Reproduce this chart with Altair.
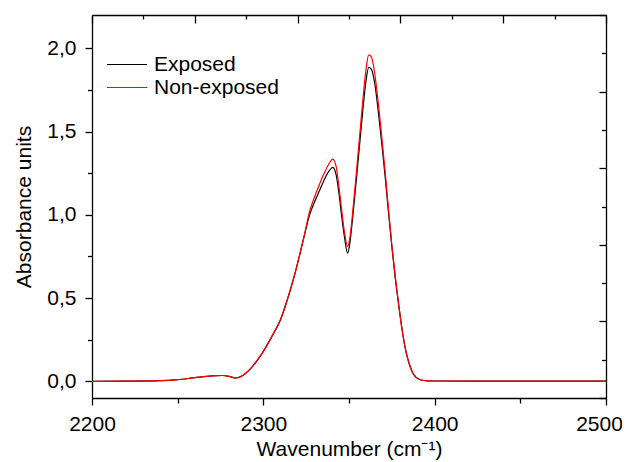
import altair as alt
import pandas as pd

# Wavenumber grid (cm-1)
wavenumber = [2200, 2220, 2240, 2250, 2260, 2270, 2276, 2280, 2284, 2288,
              2292, 2296, 2300, 2305, 2310, 2314, 2318, 2321, 2324, 2327,
              2330, 2333, 2336, 2338.5, 2340.5, 2342.5, 2344, 2345.5, 2347.3, 2349.2,
              2350.5, 2352, 2354, 2356, 2358, 2360, 2361.5, 2363, 2365, 2367,
              2369, 2371, 2373, 2375, 2377, 2379, 2381, 2383, 2385, 2387,
              2389, 2392, 2396, 2400, 2450, 2500]

non_exposed = [0, 0.001, 0.004, 0.01, 0.022, 0.033, 0.035, 0.03, 0.02, 0.035,
               0.07, 0.12, 0.18, 0.27, 0.37, 0.49, 0.63, 0.75, 0.88, 1.02,
               1.11, 1.19, 1.26, 1.31, 1.335, 1.29, 1.18, 1.05, 0.90, 0.81,
               0.86, 1.00, 1.22, 1.45, 1.68, 1.88, 1.96, 1.95, 1.85, 1.68,
               1.48, 1.27, 1.04, 0.82, 0.63, 0.46, 0.31, 0.19, 0.11, 0.055,
               0.025, 0.008, 0.003, 0.002, 0.001, 0.001]

exposed = [0, 0.001, 0.004, 0.01, 0.022, 0.033, 0.035, 0.03, 0.02, 0.035,
           0.07, 0.12, 0.18, 0.27, 0.37, 0.49, 0.63, 0.75, 0.88, 1.00,
           1.08, 1.15, 1.22, 1.265, 1.285, 1.24, 1.14, 1.01, 0.87, 0.77,
           0.83, 0.97, 1.18, 1.40, 1.62, 1.81, 1.885, 1.875, 1.79, 1.63,
           1.44, 1.24, 1.02, 0.81, 0.62, 0.46, 0.31, 0.19, 0.11, 0.055,
           0.025, 0.008, 0.003, 0.002, 0.001, 0.001]

series_names = ["Exposed", "Non-exposed"]
series_colors = ["#000000", "#ff0000"]

x_major_minor = [2200, 2250, 2300, 2350, 2400, 2450, 2500]
y_major_minor = [0, 0.25, 0.5, 0.75, 1.0, 1.25, 1.5, 1.75, 2.0]
top_ticks = [2200, 2230, 2260, 2290, 2320, 2350, 2380, 2410, 2440, 2470, 2500]
right_ticks = [-0.1, 0.13, 0.36, 0.59, 0.82, 1.05, 1.28, 1.51, 1.74, 1.97, 2.2]

rows = []
for w, a in zip(wavenumber, exposed):
    rows.append({"wn": w, "A": a, "series": series_names[0]})
for w, a in zip(wavenumber, non_exposed):
    rows.append({"wn": w, "A": a, "series": series_names[1]})
df = pd.DataFrame(rows)

FONT = "Liberation Sans"
FS = 21
xscale = alt.Scale(domain=[2200, 2500], nice=False, zero=False)
yscale = alt.Scale(domain=[-0.1, 2.2], nice=False, zero=False)

main = alt.Chart(df).mark_line(strokeWidth=1.2, interpolate="monotone").encode(
    x=alt.X("wn:Q", scale=xscale, title="Wavenumber (cm\u207B\u00B9)",
            axis=alt.Axis(values=x_major_minor, grid=False, format="d", labelFlush=False,
                          labelExpr="datum.value % 100 === 0 ? datum.label : ''",
                          labelOffset=alt.ExprRef(expr="datum.value === 2500 ? -7 : 0"),
                          tickSize=alt.ExprRef(expr="datum.value % 100 === 0 ? 7 : 5"),
                          labelPadding=8, titlePadding=4)),
    y=alt.Y("A:Q", scale=yscale, title="Absorbance units",
            axis=alt.Axis(values=y_major_minor, grid=False, labelFlush=False,
                          labelExpr="datum.value % 0.5 === 0 ? replace(format(datum.value, '.1f'), '.', ',') : ''",
                          tickSize=alt.ExprRef(expr="datum.value % 0.5 === 0 ? 7 : 4.5"),
                          labelPadding=9, titlePadding=12)),
    color=alt.Color("series:N",
                    scale=alt.Scale(domain=series_names, range=series_colors),
                    legend=alt.Legend(title=None, orient="none", legendX=14, legendY=38,
                                      symbolType="stroke", symbolSize=1600,
                                      symbolStrokeWidth=1.2, labelFontSize=FS,
                                      labelFont=FONT, labelOffset=6,
                                      clipHeight=23, rowPadding=0)),
    order=alt.Order("series:N"),
)

frame = alt.Chart(df).mark_line(strokeOpacity=0).encode(
    x=alt.X("wn:Q", scale=xscale, title=None,
            axis=alt.Axis(orient="top", values=top_ticks, labels=False, grid=False,
                          tickSize=alt.ExprRef(expr="(datum.value - 2200) % 60 === 0 ? -8 : -4"))),
    y=alt.Y("A:Q", scale=yscale, title=None,
            axis=alt.Axis(orient="right", values=right_ticks, labels=False, grid=False,
                          tickSize=alt.ExprRef(expr="round(datum.index * 10) % 2 === 0 ? -7 : -4.5"))),
    detail="series:N",
)

chart = alt.layer(main, frame).resolve_axis(x="independent", y="independent").properties(
    width=514, height=383,
    autosize=alt.AutoSizeParams(type="none"),
    padding={"left": 84, "top": 7, "right": 16, "bottom": 62},
).configure_view(stroke=None).configure_axis(
    domainColor="#000000", domainWidth=1.3, tickColor="#000000", tickWidth=1.3,
    labelFont=FONT, labelFontSize=FS, labelColor="#000000",
    titleFont=FONT, titleFontSize=FS, titleFontWeight="normal", titleColor="#000000",
)

chart.save("out.html", embed_options={"renderer": "svg", "actions": False})
